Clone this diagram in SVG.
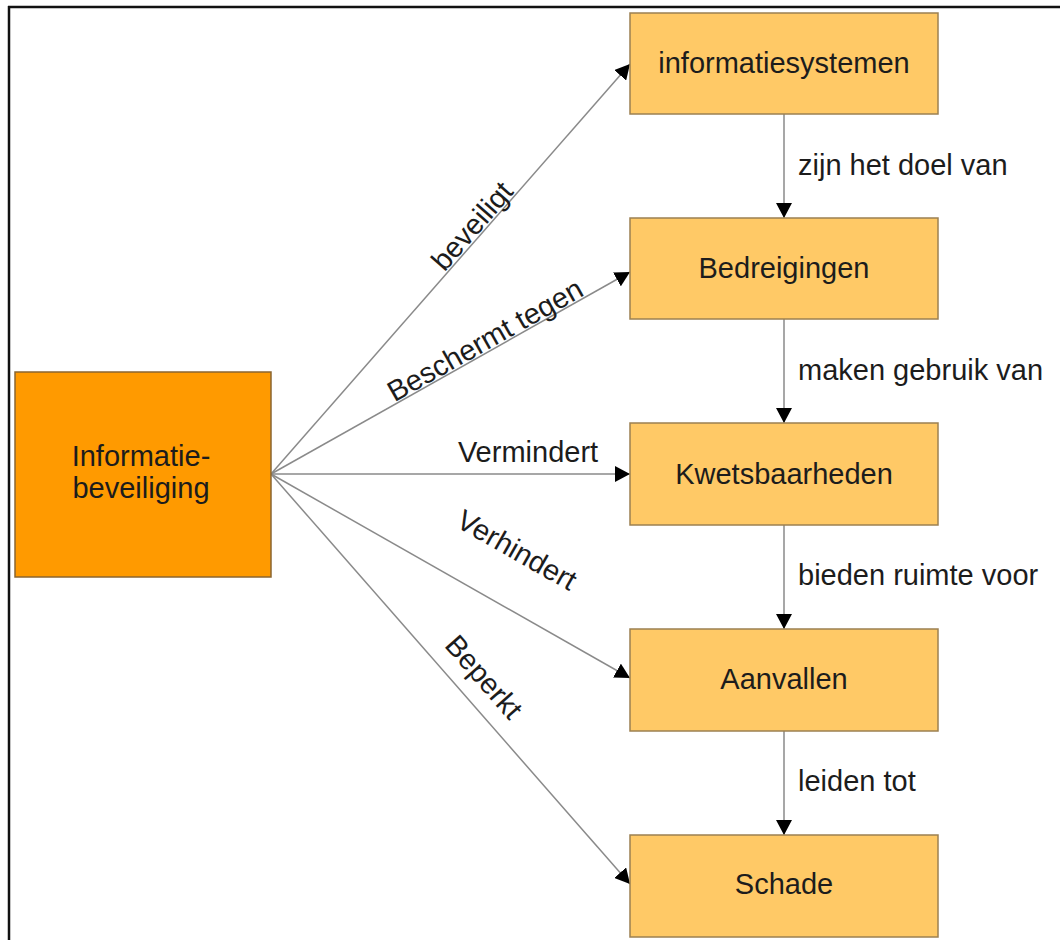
<svg xmlns="http://www.w3.org/2000/svg" width="1060" height="940" viewBox="0 0 1060 940">
<style>
  text { font-family: "Liberation Sans", Arial, sans-serif; font-size: 29px; fill: #1c1c1c; }
  .box { fill: #FFC966; stroke: #9C8052; stroke-width: 1.5; }
  .main { fill: #FF9A00; stroke: #8A6530; stroke-width: 1.5; }
  .conn { stroke: #8A8A8A; stroke-width: 1.5; fill: none; marker-end: url(#arr); }
  .c { text-anchor: middle; }
</style>
<defs>
  <marker id="arr" viewBox="0 0 15 16" refX="15" refY="8" markerWidth="15" markerHeight="16" markerUnits="userSpaceOnUse" orient="auto">
    <path d="M0,0 L15,8 L0,16 z" fill="#000"/>
  </marker>
</defs>
<rect x="0" y="0" width="1060" height="940" fill="#fff"/>
<g id="frame">
  <line x1="8" y1="7" x2="1060" y2="7" stroke="#111" stroke-width="2.5"/>
  <line x1="9" y1="6" x2="9" y2="940" stroke="#111" stroke-width="2.5"/>
</g>
<g id="connectors">
  <line class="conn" x1="271" y1="474" x2="630" y2="64"/>
  <line class="conn" x1="271" y1="474" x2="630" y2="272"/>
  <line class="conn" x1="271" y1="474" x2="630" y2="474"/>
  <line class="conn" x1="271" y1="474" x2="630" y2="678"/>
  <line class="conn" x1="271" y1="474" x2="630" y2="884"/>
  <line class="conn" x1="784" y1="114" x2="784" y2="218"/>
  <line class="conn" x1="784" y1="319" x2="784" y2="423"/>
  <line class="conn" x1="784" y1="525" x2="784" y2="629"/>
  <line class="conn" x1="784" y1="731" x2="784" y2="835"/>
  <g id="connector-labels">
    <text class="c" transform="translate(472,226) rotate(-48.8)" y="10">beveiligt</text>
    <text class="c" transform="translate(485,340) rotate(-29.4)" y="10">Beschermt tegen</text>
    <text class="c" x="528" y="462">Vermindert</text>
    <text class="c" transform="translate(517,550) rotate(29.6)" y="10">Verhindert</text>
    <text class="c" transform="translate(484,677) rotate(48.7)" y="10">Beperkt</text>
    <text x="798" y="175">zijn het doel van</text>
    <text x="798" y="380">maken gebruik van</text>
    <text x="798" y="585">bieden ruimte voor</text>
    <text x="798" y="791">leiden tot</text>
  </g>
</g>
<g id="informatiebeveiliging">
  <rect class="main" x="15" y="372" width="256" height="205"/>
  <text class="c" x="141" y="466">Informatie-</text>
  <text class="c" x="141" y="498">beveiliging</text>
</g>
<g id="informatiesystemen">
  <rect class="box" x="630" y="13" width="308" height="101"/>
  <text class="c" x="784" y="73">informatiesystemen</text>
</g>
<g id="bedreigingen">
  <rect class="box" x="630" y="218" width="308" height="101"/>
  <text class="c" x="784" y="278">Bedreigingen</text>
</g>
<g id="kwetsbaarheden">
  <rect class="box" x="630" y="423" width="308" height="102"/>
  <text class="c" x="784" y="484">Kwetsbaarheden</text>
</g>
<g id="aanvallen">
  <rect class="box" x="630" y="629" width="308" height="102"/>
  <text class="c" x="784" y="689">Aanvallen</text>
</g>
<g id="schade">
  <rect class="box" x="630" y="835" width="308" height="102"/>
  <text class="c" x="784" y="894">Schade</text>
</g>
</svg>
